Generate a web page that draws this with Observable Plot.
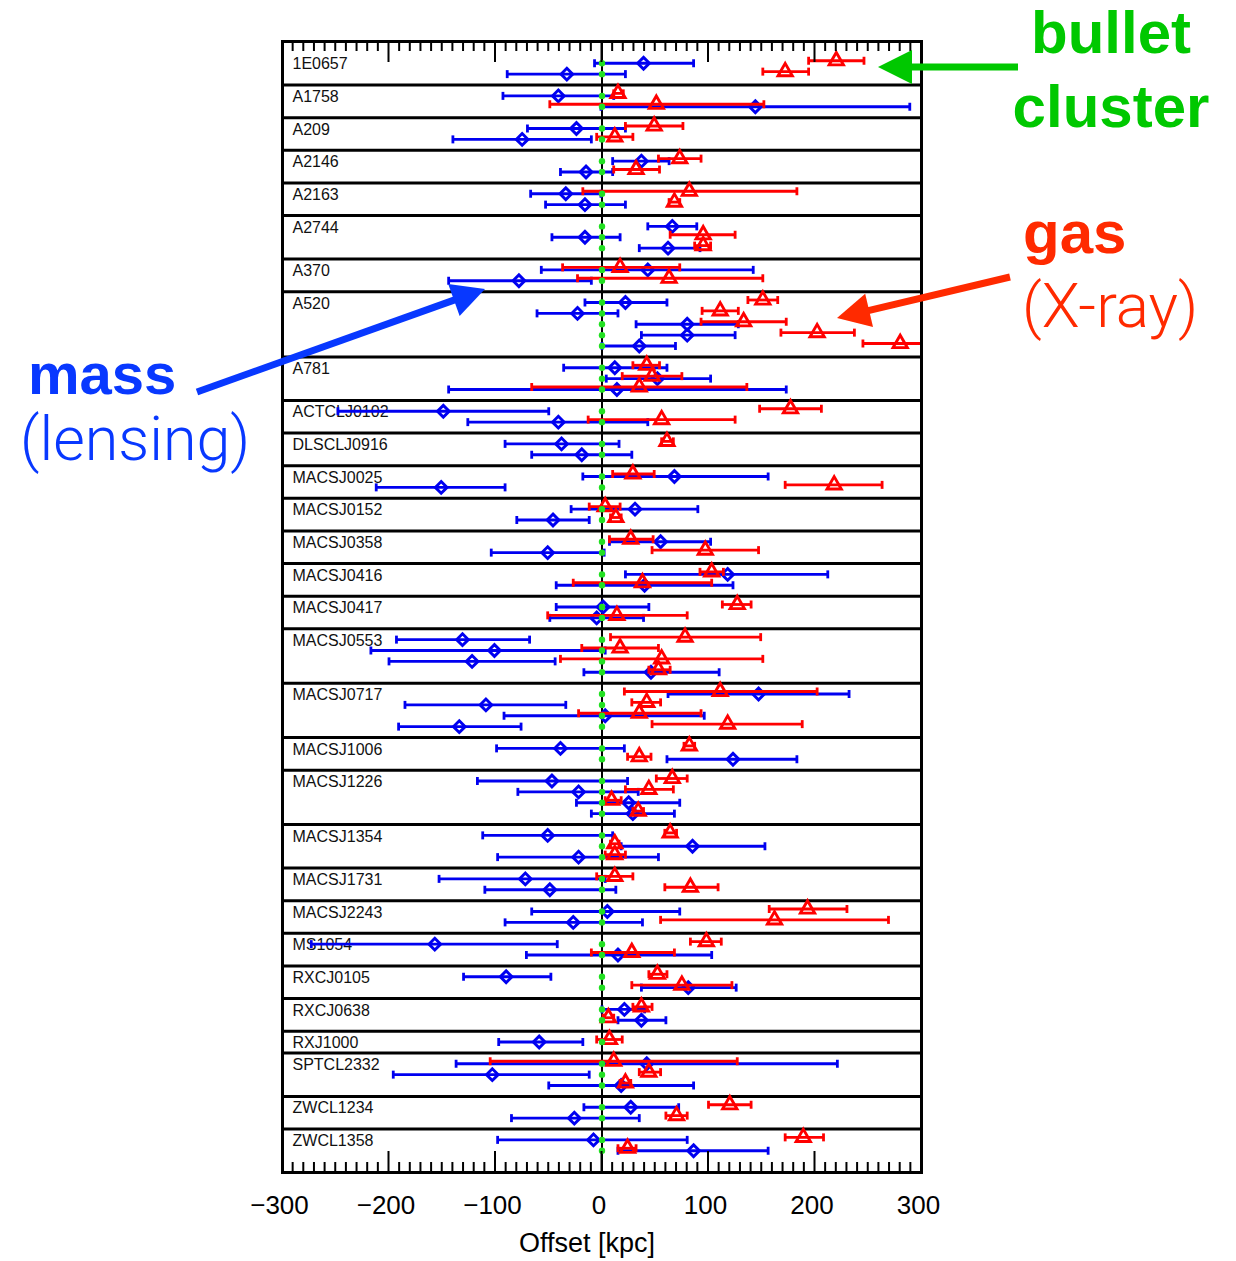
<!DOCTYPE html>
<html><head><meta charset="utf-8">
<script src="https://cdn.jsdelivr.net/npm/d3@7"></script>
<script src="https://cdn.jsdelivr.net/npm/@observablehq/plot@0.6"></script>
<style>html,body{margin:0;padding:0;background:#fff;overflow:hidden} svg{display:block}</style>
</head><body><div id="chart"></div>
<script>
// ---------- data ----------
const clusters = ["1E0657","A1758","A209","A2146","A2163","A2744","A370","A520","A781","ACTCLJ0102","DLSCLJ0916","MACSJ0025","MACSJ0152","MACSJ0358","MACSJ0416","MACSJ0417","MACSJ0553","MACSJ0717","MACSJ1006","MACSJ1226","MACSJ1354","MACSJ1731","MACSJ2243","MS1054","RXCJ0105","RXCJ0638","RXJ1000","SPTCL2332","ZWCL1234","ZWCL1358"];
const rowCounts = [2,2,2,2,2,3,2,5,3,2,2,2,2,2,2,2,4,4,2,4,3,2,2,2,2,2,1,3,2,2];
// mass (lensing) offsets [value, low, high] in kpc, one per sub-row
const lensing = [
 [39,-7,86],[-33,-89,22],
 [-41,-93,11],[144,-1,289],
 [-24,-70,22],[-75,-140,-10],
 [37,10,63],[-15,-39,10],
 [-34,-67,-1],[-16,-53,22],
 [66,43,89],[-16,-47,17],[62,35,92],
 [43,-57,142],[-78,-144,-10],
 [22,-16,61],[-23,-61,15],[80,32,128],[80,37,125],[35,0,69],
 [12,-36,61],[52,4,102],[14,-144,173],
 [-149,-248,-50],[-41,-126,43],
 [-38,-91,16],[-19,-66,28],
 [68,-18,156],[-151,-212,-91],
 [31,-29,90],[-46,-80,-12],
 [55,7,102],[-51,-104,2],
 [118,22,212],[40,-43,123],
 [1,-43,44],[-5,-49,39],
 [-131,-193,-68],[-101,-217,3],[-122,-200,-44],[46,-17,110],
 [147,62,232],[-109,-185,-34],[3,-92,96],[-134,-191,-76],
 [-39,-99,21],[123,61,183],
 [-47,-117,24],[-22,-79,34],[25,-24,73],[29,-10,68],
 [-51,-112,10],[85,18,153],[-22,-98,53],
 [-72,-153,3],[-49,-110,13],
 [5,-66,73],[-27,-91,38],
 [-157,-273,-42],[15,-71,103],
 [-90,-130,-48],[81,37,126],
 [21,0,40],[37,15,60],
 [-59,-97,-18],
 [42,-137,221],[-103,-196,-12],[18,-50,86],
 [27,-17,72],[-26,-85,35],
 [-8,-98,80],[86,15,156]
];
// gas (X-ray) offsets [value, low, high] in kpc, null where absent
const gas = [
 [220,194,246],[172,151,194],
 [15,11,20],[51,-49,152],
 [49,22,76],[12,-5,29],
 [73,53,93],[32,11,54],
 [82,-18,183],[68,63,73],
 null,[95,64,125],[95,87,102],
 [17,-37,73],[63,-23,151],
 [151,137,165],[111,94,128],[133,93,173],[202,168,237],[280,245,300],
 [42,29,54],[47,19,75],[35,-66,136],
 [177,148,206],[56,-13,125],
 [61,56,67],null,
 [29,10,49],[218,172,263],
 [3,-12,17],[13,8,18],
 [27,7,48],[97,47,147],
 [103,92,114],[38,-27,103],
 [127,113,140],[14,-51,80],
 [78,8,149],[17,-19,53],[56,-39,151],[53,44,64],
 [111,21,202],[42,28,55],[35,-22,93],[118,47,188],
 [82,77,87],[35,24,46],
 [66,51,80],[44,22,67],[9,3,18],[34,29,39],
 [64,59,70],[12,8,16],[12,3,22],
 [12,-5,29],[83,59,109],
 [193,157,230],[162,55,269],
 [98,83,112],[28,-10,68],
 [52,44,61],[75,28,122],
 [37,29,47],[6,1,11],
 [7,-5,19],
 [11,-105,127],[44,35,55],[22,17,27],
 [120,100,140],[70,60,80],
 [189,172,208],[24,15,32]
];
const xTicks = [-300,-200,-100,0,100,200,300];
const xLabel = "Offset [kpc]";

// ---------- layout of rows ----------
const rows = [], labels = [], boundaries = [];
let p = 1, k = 0;
clusters.forEach((name, i) => {
  const n = rowCounts[i];
  labels.push({name, y: p + 1});
  for (let j = 1; j <= n; j++) { rows.push({y: p + j, lens: lensing[k], gas: gas[k]}); k++; }
  p += n + 1;
  if (i < clusters.length - 1) boundaries.push(p);
});
const yMax = p + 1;
const gasRows = rows.filter(r => r.gas);
const caps = (rs, key) => rs.flatMap(r => [{x: r[key][1], y: r.y}, {x: r[key][2], y: r.y}]);

const BLUE = "#0000f0", RED = "#ff0000", GREEN = "#22e022";
const capSymbol = {draw(ctx, size) { const h = Math.sqrt(size / Math.PI); ctx.moveTo(0, -h); ctx.lineTo(0, h); }};
const GDY = -2.5;

const chart = Plot.plot({
  width: 1236, height: 1261,
  marginLeft: 282, marginRight: 315, marginTop: 41, marginBottom: 89,
  style: {fontFamily: "'Liberation Sans', Arial, Helvetica, sans-serif", background: "#fff"},
  x: {domain: [-300, 300], axis: null},
  y: {domain: [0, yMax], reverse: true, axis: null},
  marks: [
    Plot.text(labels, {x: -300, y: "y", text: "name", dx: 10, dy: 1, textAnchor: "start", fontSize: 16, fill: "#111"}),
    Plot.ruleY(boundaries, {strokeWidth: 3, stroke: "#000"}),
    Plot.ruleX([0], {strokeWidth: 2, stroke: "#000"}),
    // mass (lensing)
    Plot.ruleY(rows, {y: "y", x1: d => d.lens[1], x2: d => d.lens[2], stroke: BLUE, strokeWidth: 2.8}),
    Plot.dot(caps(rows, "lens"), {x: "x", y: "y", symbol: capSymbol, r: 4, stroke: BLUE, strokeWidth: 2.8}),
    Plot.dot(rows, {x: d => d.lens[0], y: "y", symbol: "diamond2", r: 5.3, stroke: BLUE, fill: "none", strokeWidth: 2.9}),
    // gas (X-ray)
    Plot.ruleY(gasRows, {y: "y", x1: d => d.gas[1], x2: d => d.gas[2], stroke: RED, strokeWidth: 2.8, dy: GDY}),
    Plot.dot(caps(gasRows, "gas"), {x: "x", y: "y", symbol: capSymbol, r: 4, stroke: RED, strokeWidth: 2.8, dy: GDY}),
    Plot.dot(gasRows, {x: d => d.gas[0], y: "y", symbol: "triangle", r: 5.3, stroke: RED, fill: "none", strokeWidth: 2.9, dy: GDY}),
    // galaxies at zero
    Plot.dot(rows, {x: 0, y: "y", r: 3.2, fill: GREEN}),
    Plot.frame({strokeWidth: 3, stroke: "#000"}),
    Plot.text(xTicks, {x: d => d, frameAnchor: "bottom", dx: -3, dy: 41, fontSize: 26, fill: "#000",
      text: d => d < 0 ? "\u2212" + (-d) : String(d)}),
    Plot.text([xLabel], {frameAnchor: "bottom", dx: -15, dy: 79, fontSize: 27, fill: "#000", text: d => d})
  ]
});
document.getElementById("chart").append(chart);

// ---------- inward tick marks (via the plot's scales) ----------
const sx = chart.scale("x"), sy = chart.scale("y");
const yTop = sy.apply(0), yBot = sy.apply(yMax);
const svg = d3.select(chart);
const tg = svg.append("g").attr("stroke", "#000").attr("stroke-width", 2);
d3.range(-290, 300, 10).forEach(v => {
  const X = sx.apply(v), len = (v % 100 === 0) ? 21 : 10;
  tg.append("line").attr("x1", X).attr("x2", X).attr("y1", yTop).attr("y2", yTop + len);
  tg.append("line").attr("x1", X).attr("x2", X).attr("y1", yBot).attr("y2", yBot - len);
});

// ---------- annotations ----------
const ann = svg.append("g");
function arrow(x1, y1, x2, y2, color, w, headLen, headHalf) {
  const dx = x2 - x1, dy = y2 - y1, L = Math.hypot(dx, dy), ux = dx / L, uy = dy / L;
  const bx = x2 - ux * headLen, by = y2 - uy * headLen;
  ann.append("line").attr("x1", x1).attr("y1", y1).attr("x2", bx + ux * 3).attr("y2", by + uy * 3)
    .attr("stroke", color).attr("stroke-width", w);
  ann.append("path").attr("d", `M${x2},${y2}L${bx - uy * headHalf},${by + ux * headHalf}L${bx + uy * headHalf},${by - ux * headHalf}Z`)
    .attr("fill", color);
}
function label(txt, x, y, color, size, weight, anchor) {
  ann.append("text").attr("x", x).attr("y", y).attr("fill", color)
    .attr("font-size", size).attr("font-weight", weight).attr("text-anchor", anchor)
    .attr("font-family", weight >= 600 ? "'Liberation Sans', Arial, Helvetica, sans-serif" : "Roboto, Lato, 'Open Sans', sans-serif")
    .text(txt);
}
const CG = "#00c800", CR = "#ff2a00", CB = "#0838ff";
arrow(1018, 67, 878, 67, CG, 7, 34, 17);
label("bullet", 1111, 53, CG, 60, 700, "middle");
label("cluster", 1111, 127, CG, 60, 700, "middle");
arrow(1010, 277, 837, 318, CR, 7, 33, 17);
label("gas", 1023, 253, CR, 60, 700, "start");
label("(X-ray)", 1022, 327, CR, 62, 300, "start");
arrow(197, 392, 485, 289, CB, 7, 33, 17);
label("mass", 28, 394, CB, 58, 700, "start");
label("(lensing)", 20, 460, CB, 61, 300, "start");
</script>
</body></html>
